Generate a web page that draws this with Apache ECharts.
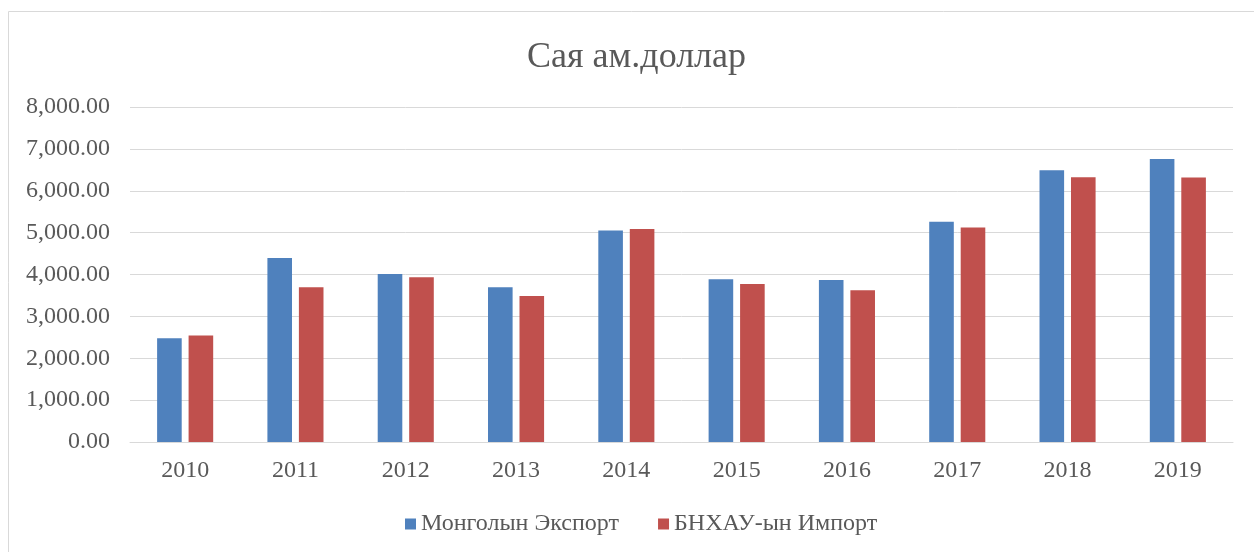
<!DOCTYPE html>
<html>
<head>
<meta charset="utf-8">
<script src="https://cdn.jsdelivr.net/npm/echarts@6/dist/echarts.min.js"></script>
<style>
  html, body { margin: 0; padding: 0; background: #fff; }
  #chart { width: 1254px; height: 552px; }
</style>
</head>
<body>
<div id="chart"></div>
<script>
// годы
const years = ['2010', '2011', '2012', '2013', '2014', '2015', '2016', '2017', '2018', '2019']
// Монголын экспорт, сая ам.доллар
const exportMn = [2479, 4393, 4012, 3695, 5053, 3885, 3869, 5259, 6491, 6761]
// БНХАУ-ын импорт
const importCn = [2541, 3695, 3933, 3487, 5085, 3773, 3623, 5125, 6324, 6317]

const font = "'Liberation Serif', 'Times New Roman', serif"
const textColor = '#595959'
const gridColor = '#d9d9d9'

const chart = echarts.init(document.getElementById('chart'))
const option = {
    animation: false,
    textStyle: { fontFamily: font },
    title: {
        text: 'Сая ам.доллар',
        left: 522,
        top: 35,
        textStyle: { fontFamily: font, fontSize: 36, fontWeight: 'normal', color: textColor }
    },
    legend: {
        bottom: 11,
        left: 400,
        itemWidth: 11,
        itemHeight: 11,
        itemGap: 39,
        icon: 'rect',
        textStyle: { fontFamily: font, fontSize: 24, color: textColor },
        data: ['Монголын Экспорт', 'БНХАУ-ын Импорт']
    },
    grid: { left: 130, right: 21, top: 107, bottom: 110 },
    xAxis: {
        type: 'category',
        data: years,
        axisLine: { lineStyle: { color: gridColor } },
        axisTick: { show: false },
        axisLabel: { fontFamily: font, fontSize: 24, color: textColor, margin: 17 }
    },
    yAxis: {
        type: 'value',
        min: 0,
        max: 8000,
        interval: 1000,
        axisLine: { show: false },
        axisTick: { show: false },
        splitLine: { lineStyle: { color: gridColor } },
        axisLabel: {
            fontFamily: font, fontSize: 24, color: textColor, margin: 20,
            formatter: (v) => v.toLocaleString('en-US', { minimumFractionDigits: 2, maximumFractionDigits: 2 })
        }
    },
    graphic: [{
        type: 'rect',
        shape: { x: 8.5, y: 11.5, width: 1400, height: 700 },
        style: { fill: 'none', stroke: gridColor, lineWidth: 1 },
        silent: true
    }],
    series: [
        {
            name: 'Монголын Экспорт',
            type: 'bar',
            barWidth: '22.3%',
            barGap: '28%',
            itemStyle: { color: '#4f81bd' },
            data: exportMn
        },
        {
            name: 'БНХАУ-ын Импорт',
            type: 'bar',
            barWidth: '22.3%',
            barGap: '28%',
            itemStyle: { color: '#c0504d' },
            data: importCn
        }
    ]
}
chart.setOption(option)
</script>
</body>
</html>
